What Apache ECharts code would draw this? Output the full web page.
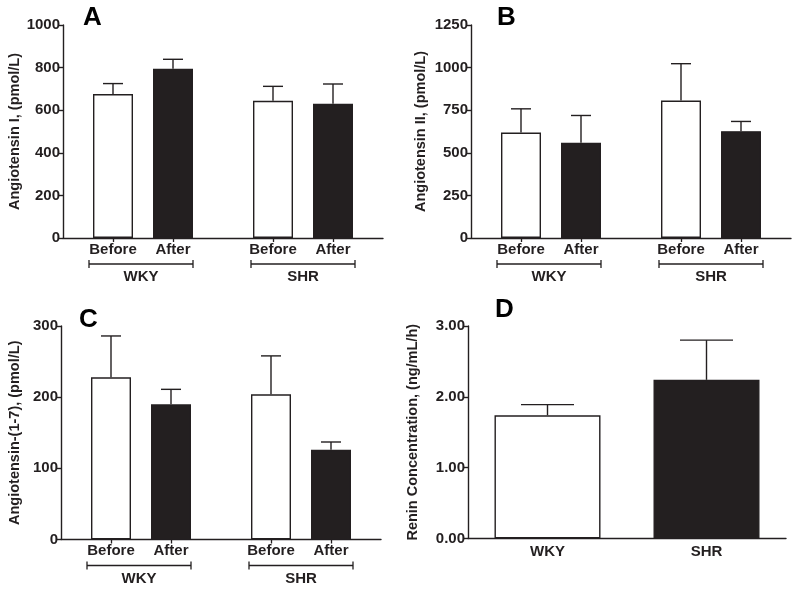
<!DOCTYPE html>
<html>
<head>
<meta charset="utf-8">
<script src="https://cdn.jsdelivr.net/npm/echarts@6/dist/echarts.min.js"></script>
<style>
  html, body { margin: 0; background: #fff; }
  #chart { width: 800px; height: 592px; }
</style>
</head>
<body>
<div id="chart"></div>
<script>
// data (means and SEM)
const phases = ["Before", "After", "Before", "After"];
const strains = ["WKY", "SHR"];

const angI = [676, 795, 644, 630];
const angISem = [49, 44, 68, 93];

const angII = [619, 559, 807, 627];
const angIISem = [139, 160, 216, 57];

const ang17 = [228, 190, 204, 126];
const ang17Sem = [58, 21, 54, 11];

const renin = [1.74, 2.24];
const reninSem = [0.15, 0.56];

// layout (x axis units for the grouped panels, 16 slots wide)
const BAR_X = [2.5, 5.5, 10.5, 13.5];
const BRACKETS = [[1.3, 6.5], [9.4, 14.6]];
const INK = "#231f20";
const FONT = "'Liberation Sans', Arial, sans-serif";

const chart = echarts.init(document.getElementById("chart"));

const grids = [];
const xAxes = [];
const yAxes = [];
const series = [];

function yAxis(i, name, max, step, gap, fmt) {
  return {
    gridIndex: i,
    type: "value",
    min: 0,
    max: max,
    interval: step,
    name: name,
    nameLocation: "middle",
    nameGap: gap,
    nameTextStyle: { color: INK, fontFamily: FONT, fontWeight: "bold", fontSize: 14.5 },
    axisLine: { show: true, lineStyle: { color: INK, width: 1.4 } },
    axisTick: { show: true, length: 4, lineStyle: { color: INK, width: 1.4 } },
    splitLine: { show: false },
    axisLabel: {
      color: INK, fontFamily: FONT, fontWeight: "bold", fontSize: 15, margin: 3,
      formatter: fmt,
    },
  };
}

function errorSeries(i, data, cap) {
  return {
    type: "custom",
    xAxisIndex: i,
    yAxisIndex: i,
    silent: true,
    z: 3,
    data: data,
    encode: { x: 0, y: 1 },
    renderItem: function (params, api) {
      const b = api.coord([api.value(0), api.value(1)]);
      const t = api.coord([api.value(0), api.value(1) + api.value(2)]);
      const st = { stroke: INK, lineWidth: 1.4 };
      return {
        type: "group",
        children: [
          { type: "line", shape: { x1: b[0], y1: b[1], x2: t[0], y2: t[1] }, style: st },
          { type: "line", shape: { x1: t[0] - cap, y1: t[1], x2: t[0] + cap, y2: t[1] }, style: st },
        ],
      };
    },
  };
}

function groupedPanel(i, box, name, max, step, gap, means, sems) {
  grids.push(box);
  xAxes.push({
    gridIndex: i,
    type: "value",
    min: 0,
    max: 16,
    axisLine: { show: true, onZero: false, lineStyle: { color: INK, width: 1.4 } },
    splitLine: { show: false },
    axisTick: { show: true, customValues: BAR_X, length: 4, lineStyle: { color: INK, width: 1.3 } },
    axisLabel: {
      customValues: BAR_X,
      formatter: (v) => phases[BAR_X.indexOf(v)] || "",
      color: INK, fontFamily: FONT, fontWeight: "bold", fontSize: 15, margin: 4,
    },
  });
  yAxes.push(yAxis(i, name, max, step, gap, (v) => v));
  series.push({
    type: "bar",
    xAxisIndex: i,
    yAxisIndex: i,
    barWidth: 40,
    silent: true,
    data: means.map((m, k) => ({
      value: [BAR_X[k], m],
      itemStyle: { color: k % 2 ? INK : "#fff", borderColor: INK, borderWidth: 1.4 },
    })),
  });
  series.push(errorSeries(i, means.map((m, k) => [BAR_X[k], m, sems[k]]), 10));
  // strain brackets under each pair
  series.push({
    type: "custom",
    xAxisIndex: i,
    yAxisIndex: i,
    silent: true,
    clip: false,
    data: BRACKETS.map((b, k) => [b[0], b[1], k]),
    encode: { x: [0, 1] },
    renderItem: function (params, api) {
      const p1 = api.coord([api.value(0), 0]);
      const p2 = api.coord([api.value(1), 0]);
      const y = p1[1] + 26;
      const st = { stroke: INK, lineWidth: 1.3 };
      return {
        type: "group",
        children: [
          { type: "line", shape: { x1: p1[0], y1: y, x2: p2[0], y2: y }, style: st },
          { type: "line", shape: { x1: p1[0], y1: y - 4, x2: p1[0], y2: y + 4 }, style: st },
          { type: "line", shape: { x1: p2[0], y1: y - 4, x2: p2[0], y2: y + 4 }, style: st },
          {
            type: "text",
            style: {
              text: strains[api.value(2)],
              x: (p1[0] + p2[0]) / 2,
              y: y + 13,
              fill: INK,
              font: "bold 15px " + FONT,
              textAlign: "center",
              textVerticalAlign: "middle",
            },
          },
        ],
      };
    },
  });
}

groupedPanel(0, { left: 63, top: 25, width: 320, height: 213 },
  "Angiotensin I, (pmol/L)", 1000, 200, 41, angI, angISem);
groupedPanel(1, { left: 471, top: 25, width: 320, height: 213 },
  "Angiotensin II, (pmol/L)", 1250, 250, 43, angII, angIISem);
groupedPanel(2, { left: 61, top: 326, width: 320, height: 213.5 },
  "Angiotensin-(1-7), (pmol/L)", 300, 100, 39, ang17, ang17Sem);

// panel D: renin, simple two-bar chart
grids.push({ left: 468, top: 326, width: 318, height: 212.5 });
xAxes.push({
  gridIndex: 3,
  type: "category",
  data: strains,
  axisLine: { show: true, lineStyle: { color: INK, width: 1.4 } },
  axisTick: { show: false },
  axisLabel: { color: INK, fontFamily: FONT, fontWeight: "bold", fontSize: 15, margin: 6 },
});
yAxes.push(yAxis(3, "Renin Concentration, (ng/mL/h)", 3, 1, 48, (v) => v.toFixed(2)));
series.push({
  type: "bar",
  xAxisIndex: 3,
  yAxisIndex: 3,
  barWidth: 106,
  silent: true,
  data: renin.map((m, k) => ({
    value: m,
    itemStyle: { color: k ? INK : "#fff", borderColor: INK, borderWidth: 1.4 },
  })),
});
series.push(errorSeries(3, renin.map((m, k) => [k, m, reninSem[k]]), 26.5));

const letter = (t, left, top) => ({
  text: t, left: left, top: top, padding: 0,
  textStyle: { color: "#000", fontFamily: FONT, fontWeight: "bold", fontSize: 26 },
});

chart.setOption({
  animation: false,
  backgroundColor: "#fff",
  title: [letter("A", 83, 5), letter("B", 497, 5), letter("C", 79, 307), letter("D", 495, 297)],
  grid: grids,
  xAxis: xAxes,
  yAxis: yAxes,
  series: series,
});
</script>
</body>
</html>
